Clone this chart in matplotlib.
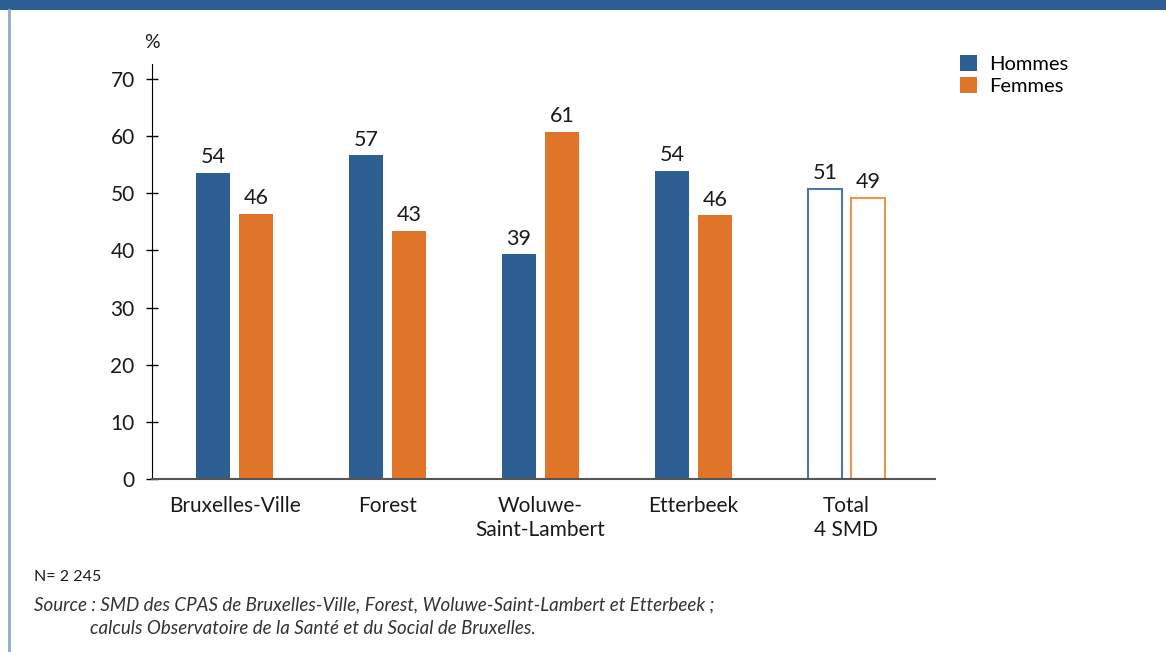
import numpy as np
import matplotlib
matplotlib.use("Agg")
from matplotlib import pyplot as plt
from matplotlib.patches import Patch, Rectangle
from matplotlib.lines import Line2D

plt.rcParams['font.family'] = ['Lato', 'DejaVu Sans']

# Data
categories = ["Bruxelles-Ville", "Forest", "Woluwe-\nSaint-Lambert", "Etterbeek", "Total\n4 SMD"]
hommes = [53.6, 56.6, 39.3, 53.9, 50.8]
femmes = [46.4, 43.4, 60.7, 46.1, 49.2]
series_names = ["Hommes", "Femmes"]
yticks = [0, 10, 20, 30, 40, 50, 60, 70]

BLUE = "#2D5F93"
ORANGE = "#E07428"
TEXT = "#1a1a1a"

fig = plt.figure(figsize=(11.66, 6.52), dpi=100)

# header band and left rule
fig.add_artist(Rectangle((0, 1 - 9.5 / 652), 1, 9.5 / 652, transform=fig.transFigure,
                         facecolor="#2E5F94", edgecolor="none"))
fig.add_artist(Line2D([9 / 1166, 9 / 1166], [0, 1 - 9.5 / 652], transform=fig.transFigure,
                      color="#93A9C7", lw=2))

ax = fig.add_axes([152 / 1166, 1 - 479 / 652, (935 - 152) / 1166, (479 - 64) / 652])

x = np.arange(len(categories))
w = 0.225
off = 0.141
n = len(categories)

# the last group (total) is drawn as outlined bars
for i in range(n):
    if i < n - 1:
        ax.bar(x[i] - off, hommes[i], w, color=BLUE, zorder=2)
        ax.bar(x[i] + off, femmes[i], w, color=ORANGE, zorder=2)
    else:
        ax.bar(x[i] - off, hommes[i], w, facecolor="white", edgecolor="#4C77AC", lw=1.5, zorder=2)
        ax.bar(x[i] + off, femmes[i], w, facecolor="white", edgecolor="#EE9550", lw=1.5, zorder=2)
    ax.text(x[i] - off, hommes[i] + 1.0, f"{hommes[i]:.0f}", ha="center", va="bottom",
            fontsize=15.5, color=TEXT)
    ax.text(x[i] + off, femmes[i] + 1.0, f"{femmes[i]:.0f}", ha="center", va="bottom",
            fontsize=15.5, color=TEXT)

ax.set_xlim(-0.54, n - 1 + 0.58)
ax.set_ylim(0, 72.6)
ax.set_yticks(yticks)
ax.set_yticklabels([str(t) for t in yticks], fontsize=15, color=TEXT)
ax.set_xticks(x)
ax.set_xticklabels(categories, fontsize=15, color=TEXT, linespacing=1.3)
ax.tick_params(axis="x", length=0, pad=12)
ax.tick_params(axis="y", direction="inout", length=9, width=1, pad=8)

for s in ["top", "right"]:
    ax.spines[s].set_visible(False)
ax.spines["left"].set_color("black")
ax.spines["bottom"].set_color("#555555")
ax.spines["bottom"].set_linewidth(1.5)

ax.text(0.0, 1 + 21 / 415, "%", transform=ax.transAxes, ha="center", va="center",
        fontsize=14, color=TEXT)

handles = [Patch(facecolor=BLUE, edgecolor="none"), Patch(facecolor=ORANGE, edgecolor="none")]
fig.legend(handles, series_names, loc="upper left", bbox_to_anchor=(952 / 1166, 1 - 47 / 652),
           frameon=False, fontsize=14.5, handlelength=0.85, handleheight=0.85,
           handletextpad=0.6, labelspacing=0.2, borderaxespad=0)

fig.text(34 / 1166, 1 - 577 / 652, "N= 2 245", fontsize=11.5, color=TEXT, va="center")
fig.text(34 / 1166, 1 - 605 / 652,
         "Source : SMD des CPAS de Bruxelles-Ville, Forest, Woluwe-Saint-Lambert et Etterbeek ;",
         fontsize=13.5, style="italic", color="#333333", va="center")
fig.text(90 / 1166, 1 - 628 / 652,
         "calculs Observatoire de la Santé et du Social de Bruxelles.",
         fontsize=13.5, style="italic", color="#333333", va="center")

fig.savefig("out.png", dpi=100)
